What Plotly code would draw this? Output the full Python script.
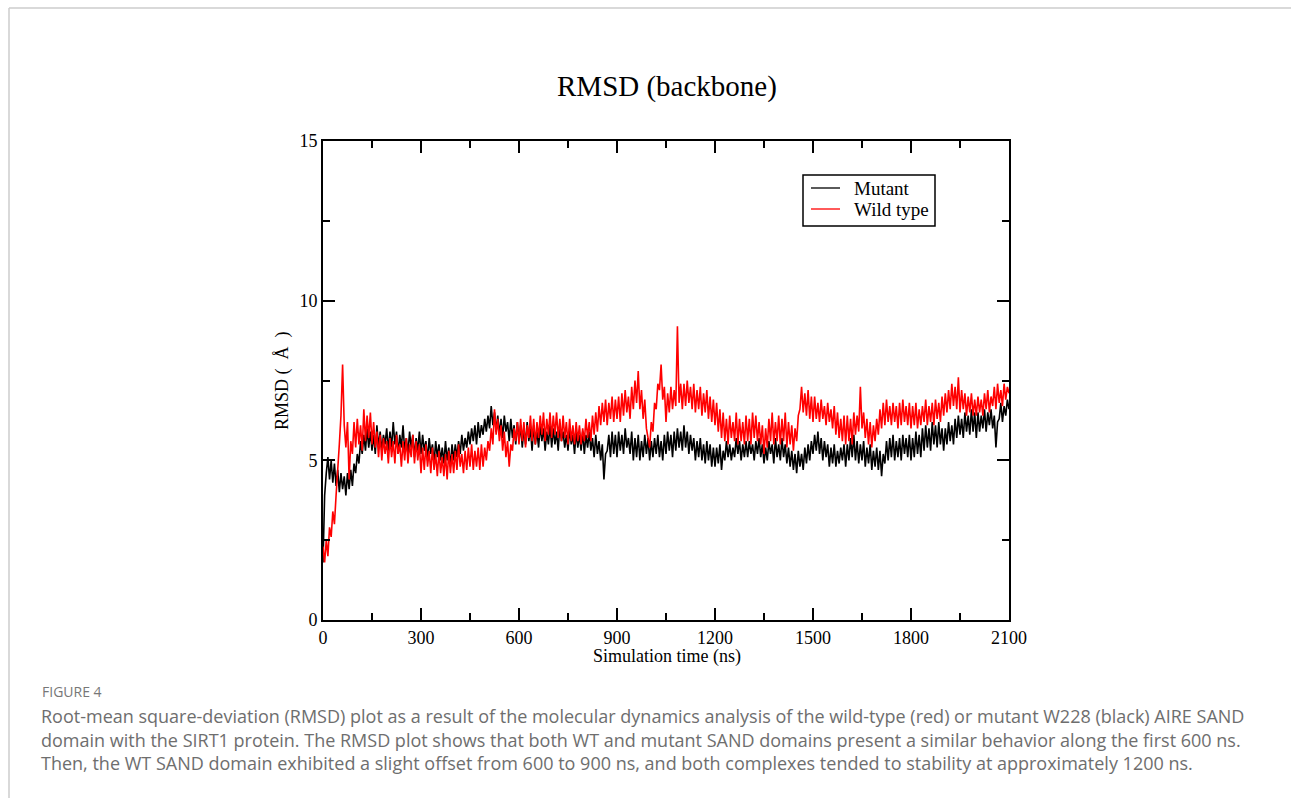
import plotly.graph_objects as go

# ---------------- data (one value every 5 ns) ----------------
TIME_NS = list(range(0, 2101, 5))

MUTANT = [
    1.8, 3.9, 4.6, 5.1, 4.4, 5.0, 4.3, 4.9, 4.2, 4.7, 4.0, 4.6, 4.1, 4.5, 3.9, 4.6, 4.1, 4.7, 4.2, 4.9,
    4.6, 5.2, 4.9, 5.6, 5.2, 5.8, 5.3, 6.0, 5.4, 5.9, 5.3, 5.8, 5.2, 6.1, 5.4, 5.9, 5.3, 5.8, 5.5, 6.0,
    5.3, 5.9, 5.4, 6.2, 5.5, 5.9, 5.2, 5.8, 5.4, 6.1, 5.3, 5.7, 5.2, 5.9, 5.4, 5.8, 5.1, 5.7, 5.3, 5.9,
    5.2, 5.8, 5.3, 5.6, 5.0, 5.7, 5.2, 5.5, 4.9, 5.6, 5.1, 5.5, 5.0, 5.4, 4.9, 5.6, 5.0, 5.4, 4.8, 5.5,
    5.0, 5.5, 5.1, 5.6, 5.2, 5.8, 5.3, 5.7, 5.4, 5.9, 5.5, 6.0, 5.6, 6.1, 5.5, 6.2, 5.7, 6.1, 5.8, 6.3,
    5.9, 6.4, 6.0, 6.7, 6.1, 6.5, 5.9, 6.4, 5.8, 6.3, 5.7, 6.4, 5.9, 6.2, 5.6, 6.3, 5.7, 6.1, 5.5, 6.2,
    5.6, 6.1, 5.4, 6.0, 5.5, 6.2, 5.6, 6.0, 5.3, 6.1, 5.5, 5.9, 5.4, 6.1, 5.6, 6.0, 5.3, 5.9, 5.5, 6.1,
    5.4, 6.0, 5.5, 5.9, 5.3, 6.1, 5.6, 5.9, 5.4, 5.8, 5.3, 6.0, 5.5, 5.8, 5.2, 5.9, 5.4, 5.8, 5.3, 5.9,
    5.2, 5.8, 5.4, 5.9, 5.3, 5.7, 5.1, 5.8, 5.2, 5.6, 5.0, 5.5, 4.4, 5.2, 5.3, 5.8, 5.1, 5.9, 5.2, 5.8,
    5.1, 5.9, 5.3, 5.8, 5.2, 6.0, 5.4, 5.7, 5.2, 5.9, 5.0, 5.7, 5.1, 5.8, 5.0, 5.6, 5.1, 5.8, 5.2, 5.7,
    5.0, 5.6, 5.1, 5.7, 5.2, 5.8, 5.1, 5.6, 5.0, 5.8, 5.2, 5.9, 5.3, 5.8, 5.1, 5.9, 5.3, 6.0, 5.4, 5.9,
    5.3, 6.1, 5.4, 5.9, 5.2, 5.8, 5.3, 5.7, 5.0, 5.6, 5.1, 5.7, 5.0, 5.5, 4.9, 5.6, 5.0, 5.5, 4.8, 5.4,
    4.8, 5.4, 4.9, 5.5, 4.7, 5.3, 5.0, 5.6, 5.1, 5.5, 5.0, 5.4, 5.1, 5.7, 5.2, 5.6, 5.0, 5.5, 5.1, 5.6,
    5.1, 5.6, 5.2, 5.5, 5.0, 5.6, 5.2, 5.7, 5.1, 5.5, 4.9, 5.4, 5.0, 5.6, 5.2, 5.5, 4.9, 5.7, 5.1, 5.5,
    5.0, 5.7, 5.1, 5.5, 4.9, 5.4, 4.8, 5.3, 4.7, 5.2, 4.6, 5.3, 4.8, 5.2, 4.7, 5.4, 4.9, 5.5, 5.0, 5.6,
    5.2, 5.8, 5.3, 5.9, 5.2, 5.7, 5.0, 5.6, 5.1, 5.5, 4.8, 5.4, 4.9, 5.5, 4.8, 5.3, 4.9, 5.4, 5.0, 5.5,
    4.8, 5.5, 5.0, 5.7, 5.1, 5.8, 5.0, 5.6, 4.9, 5.5, 5.0, 5.6, 4.8, 5.4, 4.9, 5.5, 4.7, 5.3, 4.8, 5.4,
    4.7, 5.3, 4.5, 5.2, 4.9, 5.6, 5.0, 5.7, 5.1, 5.8, 5.0, 5.6, 5.1, 5.7, 5.0, 5.8, 5.2, 5.7, 5.1, 5.8,
    5.0, 5.7, 5.1, 5.9, 5.2, 5.8, 5.1, 6.0, 5.3, 6.1, 5.4, 6.0, 5.3, 6.2, 5.5, 6.1, 5.4, 6.2, 5.5, 6.0,
    5.3, 6.0, 5.5, 6.2, 5.6, 6.1, 5.5, 6.3, 5.7, 6.4, 5.8, 6.3, 5.7, 6.5, 5.9, 6.4, 5.8, 6.6, 5.9, 6.5,
    5.7, 6.5, 5.9, 6.4, 6.0, 6.6, 5.9, 6.5, 6.1, 6.6, 6.0, 6.4, 5.4, 6.2, 6.3, 6.8, 6.2, 6.7, 6.4, 6.9,
    6.6,
]

WILD_TYPE = [
    2.3, 1.8, 2.5, 2.0, 2.9, 2.6, 3.4, 3.0, 3.9, 4.6, 5.5, 6.4, 8.0, 6.1, 5.4, 6.2, 4.4, 5.6, 5.2, 6.2,
    5.4, 6.3, 5.5, 6.1, 5.3, 6.6, 5.6, 6.4, 5.7, 6.5, 5.5, 6.2, 5.4, 5.9, 5.1, 5.8, 5.0, 5.7, 5.2, 5.6,
    4.9, 5.7, 5.1, 5.6, 4.9, 5.8, 5.2, 5.5, 4.8, 5.6, 5.0, 5.7, 4.9, 5.5, 5.1, 5.8, 4.9, 5.6, 5.0, 5.5,
    4.6, 5.4, 4.7, 5.5, 4.8, 5.3, 4.6, 5.4, 4.7, 5.2, 4.5, 5.3, 4.6, 5.1, 4.5, 5.2, 4.4, 5.3, 4.6, 5.2,
    4.6, 5.3, 4.7, 5.5, 4.8, 5.2, 4.6, 5.3, 4.7, 5.4, 4.8, 5.5, 4.7, 5.3, 4.8, 5.4, 4.7, 5.5, 4.8, 5.4,
    5.0, 5.6, 5.3, 6.0, 5.5, 6.6, 5.8, 6.3, 5.6, 6.1, 5.3, 5.9, 5.1, 5.6, 4.8, 5.5, 5.3, 6.0, 5.6, 6.2,
    5.5, 6.3, 5.6, 6.2, 5.4, 6.1, 5.7, 6.4, 5.6, 6.3, 5.5, 6.2, 5.7, 6.4, 5.8, 6.5, 5.6, 6.3, 5.8, 6.5,
    5.7, 6.4, 5.8, 6.5, 5.7, 6.3, 5.6, 6.4, 5.7, 6.2, 5.5, 6.3, 5.6, 6.1, 5.5, 6.2, 5.6, 6.1, 5.5, 6.0,
    5.6, 6.3, 5.7, 6.2, 5.6, 6.4, 5.8, 6.5, 5.9, 6.7, 6.1, 6.8, 6.2, 6.9, 6.1, 6.8, 6.3, 7.0, 6.2, 6.9,
    6.3, 7.0, 6.2, 7.1, 6.4, 7.2, 6.5, 7.0, 6.3, 7.3, 6.6, 7.5, 6.8, 7.8, 6.6, 7.2, 6.3, 6.9, 6.0, 5.7,
    5.4, 6.2, 5.9, 6.8, 6.6, 7.4, 7.2, 8.0, 6.9, 7.3, 6.2, 7.1, 6.5, 7.3, 6.6, 7.2, 6.7, 9.2, 6.8, 7.4,
    6.6, 7.4, 6.7, 7.5, 6.8, 7.3, 6.6, 7.4, 6.5, 7.2, 6.6, 7.3, 6.4, 7.1, 6.5, 7.2, 6.3, 7.0, 6.2, 6.9,
    6.1, 6.8, 5.9, 6.6, 5.7, 6.5, 5.6, 6.3, 5.5, 6.4, 5.7, 6.2, 5.6, 6.5, 5.5, 6.3, 5.6, 6.2, 5.5, 6.4,
    5.6, 6.3, 5.5, 6.5, 5.7, 6.4, 5.6, 6.2, 5.5, 6.1, 5.2, 6.0, 5.4, 6.3, 5.6, 6.5, 5.5, 6.2, 5.6, 6.4,
    5.5, 6.3, 5.6, 6.5, 5.4, 6.2, 5.5, 6.1, 5.3, 6.0, 5.6, 6.4, 6.6, 7.3, 6.5, 7.1, 6.4, 7.2, 6.3, 7.0,
    6.2, 7.0, 6.3, 6.8, 6.2, 6.9, 6.3, 6.7, 6.1, 6.8, 6.2, 6.6, 6.0, 6.7, 5.8, 6.5, 5.7, 6.3, 5.6, 6.4,
    5.5, 6.4, 5.6, 6.3, 5.5, 6.5, 5.8, 6.4, 5.9, 7.3, 6.0, 6.5, 5.7, 6.3, 5.5, 6.2, 5.4, 6.1, 5.6, 6.3,
    5.8, 6.6, 6.0, 6.8, 6.1, 6.9, 6.2, 6.7, 6.1, 6.8, 6.2, 6.7, 6.0, 6.8, 6.1, 6.9, 6.2, 6.7, 6.1, 6.8,
    6.0, 6.7, 6.1, 6.8, 6.0, 6.6, 6.1, 6.7, 6.2, 6.9, 6.1, 6.7, 6.2, 6.8, 6.1, 6.9, 6.3, 6.8, 6.2, 7.0,
    6.4, 7.1, 6.5, 7.2, 6.6, 7.4, 6.7, 7.3, 6.6, 7.6, 6.5, 7.2, 6.6, 7.1, 6.4, 7.0, 6.5, 7.1, 6.4, 6.9,
    6.4, 7.0, 6.5, 6.9, 6.4, 7.1, 6.6, 7.2, 6.5, 7.0, 6.7, 7.3, 6.6, 7.4, 6.8, 7.2, 6.7, 7.4, 6.9, 7.3,
    7.1,
]

X_TICKS = [0, 300, 600, 900, 1200, 1500, 1800, 2100]
Y_TICKS = [0, 5, 10, 15]
SERIES_NAMES = ["Mutant", "Wild type"]
SERIES_COLORS = ["#000000", "#ff0000"]

TITLE = "RMSD (backbone)"
X_TITLE = "Simulation time (ns)"
Y_TITLE = "RMSD (\u00a0\u00a0Å\u00a0\u00a0)"
CAPTION_HEAD = "FIGURE 4"
CAPTION_LINES = [
    "Root-mean square-deviation (RMSD) plot as a result of the molecular dynamics analysis of the wild-type (red) or mutant W228 (black) AIRE SAND",
    "domain with the SIRT1 protein. The RMSD plot shows that both WT and mutant SAND domains present a similar behavior along the first 600 ns.",
    "Then, the WT SAND domain exhibited a slight offset from 600 to 900 ns, and both complexes tended to stability at approximately 1200 ns.",
]

# ---------------- layout geometry ----------------
W, H = 1292, 798
L, R, T, B = 323, 1009, 141, 620  # plot frame in pixels


def px_x(px):
    return (px - L) / (R - L)


def px_y(py):
    return (B - py) / (B - T)


SERIF = "Liberation Serif, Times New Roman, serif"
SANS = "Open Sans, Noto Sans, sans-serif"

n = min(len(TIME_NS), len(MUTANT), len(WILD_TYPE))

fig = go.Figure()
for name, ys, col in zip(SERIES_NAMES, [MUTANT, WILD_TYPE], SERIES_COLORS):
    fig.add_trace(go.Scatter(x=TIME_NS[:n], y=ys[:n], mode="lines", name=name,
                             line=dict(color=col, width=1.6), showlegend=False))

axis_common = dict(
    showgrid=False, zeroline=False, showline=True, linecolor="black", linewidth=2,
    mirror="ticks", ticks="inside", ticklen=12, tickwidth=1.5, tickcolor="black",
    tickfont=dict(family=SERIF, size=18, color="black"),
)

fig.update_xaxes(range=[0, 2100], tickvals=X_TICKS, **axis_common,
                 minor=dict(dtick=150, tick0=0, ticklen=7, tickwidth=1.5,
                            ticks="inside", tickcolor="black"))
fig.update_yaxes(range=[0, 15], tickvals=Y_TICKS, **axis_common,
                 minor=dict(dtick=2.5, tick0=0, ticklen=7, tickwidth=1.5,
                            ticks="inside", tickcolor="black"))

annotations = [
    dict(text=TITLE, x=px_x(667), y=px_y(86), xanchor="center", yanchor="middle",
         font=dict(family=SERIF, size=29, color="black")),
    dict(text=X_TITLE, x=px_x(667), y=px_y(656), xanchor="center", yanchor="middle",
         font=dict(family=SERIF, size=18, color="black")),
    dict(text=Y_TITLE, x=px_x(282), y=px_y(381), xanchor="center", yanchor="middle",
         textangle=-90, font=dict(family=SERIF, size=18, color="black")),
    dict(text=CAPTION_HEAD, x=px_x(40), y=px_y(691), xanchor="left", yanchor="middle",
         font=dict(family=SANS, size=14, color="#777777")),
]
for i, line in enumerate(CAPTION_LINES):
    annotations.append(dict(text=line, x=px_x(39), y=px_y(716 + 23.5 * i),
                            xanchor="left", yanchor="middle",
                            font=dict(family=SANS, size=18, color="#6e6e6e")))

# hand-drawn legend box (Grace style)
LEG_X0, LEG_X1, LEG_Y0, LEG_Y1 = 803, 935, 175, 226
LEG_ROWS = [188, 209]
shapes = [
    dict(type="line", xref="paper", yref="paper", x0=px_x(9), x1=px_x(1291),
         y0=px_y(8), y1=px_y(8), line=dict(color="#cccccc", width=1.5)),
    dict(type="line", xref="paper", yref="paper", x0=px_x(9), x1=px_x(9),
         y0=px_y(8), y1=px_y(798), line=dict(color="#cccccc", width=1.5)),
    dict(type="rect", xref="paper", yref="paper", x0=px_x(LEG_X0), x1=px_x(LEG_X1),
         y0=px_y(LEG_Y0), y1=px_y(LEG_Y1), line=dict(color="black", width=1.5),
         fillcolor="white", layer="above"),
]
for name, col, ry in zip(SERIES_NAMES, SERIES_COLORS, LEG_ROWS):
    shapes.append(dict(type="line", xref="paper", yref="paper", x0=px_x(811), x1=px_x(840),
                       y0=px_y(ry), y1=px_y(ry), line=dict(color=col, width=1.3),
                       layer="above"))
    annotations.append(dict(text=name, x=px_x(852), y=px_y(ry), xanchor="left",
                            yanchor="middle", font=dict(family=SERIF, size=19, color="black")))

for a in annotations:
    a.update(xref="paper", yref="paper", showarrow=False)

fig.update_layout(
    width=W, height=H,
    margin=dict(l=L, r=W - R, t=T, b=H - B, pad=0),
    paper_bgcolor="white", plot_bgcolor="white",
    showlegend=False,
    annotations=annotations,
    shapes=shapes,
)

fig.write_html("out.html", config={"displayModeBar": False},
               post_script="document.body.style.margin='0';document.body.style.overflow='hidden';")
